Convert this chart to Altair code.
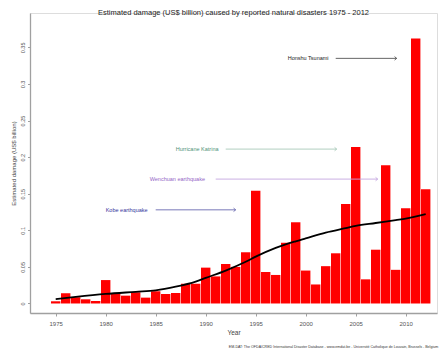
import altair as alt
import pandas as pd

years = list(range(1975, 2013))
damage = [0.003, 0.014, 0.0085, 0.0057, 0.0034, 0.032, 0.014, 0.0107, 0.0153, 0.008,
          0.0167, 0.013, 0.0143, 0.027, 0.027, 0.049, 0.037, 0.054, 0.050, 0.070,
          0.154, 0.043, 0.039, 0.083, 0.111, 0.045, 0.026, 0.051, 0.0686, 0.136,
          0.214, 0.033, 0.0735, 0.189, 0.046, 0.130, 0.362, 0.156]

trend_years = [1975, 1977, 1980, 1983, 1985, 1987, 1989, 1990, 1992, 1994, 1995,
               1997, 1999, 2000, 2002, 2004, 2005, 2007, 2009, 2010, 2012]
trend_vals = [0.006, 0.009, 0.013, 0.016, 0.018, 0.023, 0.030, 0.035, 0.045, 0.057, 0.064,
              0.076, 0.085, 0.089, 0.097, 0.103, 0.106, 0.110, 0.114, 0.116, 0.122]

ann_labels = ["Honshu Tsunami", "Hurricane Katrina", "Wenchuan earthquake", "Kobe earthquake"]
ann_text_x = [1998.2, 1987.0, 1984.4, 1980.0]
ann_y = [0.335, 0.211, 0.170, 0.128]
ann_arrow_start = [2003.0, 1992.0, 1991.0, 1985.0]
ann_arrow_end = [2009.1, 2003.1, 2007.2, 1993.0]
ann_text_color = ["#222222", "#4f9279", "#9466c6", "#35359c"]
ann_arrow_color = ["#555555", "#a9c9ba", "#c4a6e0", "#6a6ab0"]

caption = ["EM-DAT: The OFDA/CRED International Disaster Database - www.emdat.be - Université Catholique de Louvain, Brussels - Belgium"]
caption_x = [2013.25]
caption_y = [-0.059]

y_ticks = [0, 0.05, 0.1, 0.15, 0.2, 0.25, 0.3, 0.35]
x_ticks = [1975, 1980, 1985, 1990, 1995, 2000, 2005, 2010]

bars_df = pd.DataFrame({"year": years, "damage": damage})
bars_df["x0"] = bars_df["year"] - 0.47
bars_df["x1"] = bars_df["year"] + 0.47
trend_df = pd.DataFrame({"year": trend_years, "val": trend_vals})
ann_df = pd.DataFrame({"label": ann_labels, "tx": ann_text_x, "y": ann_y,
                       "a0": ann_arrow_start, "a1": ann_arrow_end,
                       "tc": ann_text_color, "ac": ann_arrow_color})
cap_df = pd.DataFrame({"text": caption, "x": caption_x, "y": caption_y})

xscale = alt.Scale(domain=[1972.43, 2013.13], nice=False, zero=False)
yscale = alt.Scale(domain=[-0.013, 0.397], nice=False, zero=False)

XT = "Year"
YT = "Estimated damage (US$ billion)"
xaxis = alt.Axis(values=x_ticks, format="d", labelFontSize=6, labelColor="#555555",
                 titleFontSize=6.5, titleColor="#444444", titleFontWeight="normal",
                 domainColor="#a0a0a0", domainWidth=1.3, tickColor="#a0a0a0",
                 tickSize=3, labelPadding=4, titlePadding=3, grid=False)
yaxis = alt.Axis(values=y_ticks, format="~g", labelFontSize=5.5, labelColor="#555555",
                 labelAngle=270, titleFontSize=6, titleColor="#444444",
                 titleFontWeight="normal", domainColor="#a0a0a0", domainWidth=1.3,
                 tickColor="#a0a0a0", tickSize=2.5, labelPadding=2, titlePadding=4,
                 grid=False)


def X(f):
    return alt.X(f, scale=xscale, title=XT, axis=xaxis)


def Y(f):
    return alt.Y(f, scale=yscale, title=YT, axis=yaxis)


bars = alt.Chart(bars_df).mark_rect(color="#ff0000").encode(
    x=X("x0:Q"), x2="x1:Q", y=Y("damage:Q"), y2=alt.datum(0),
)

trend = alt.Chart(trend_df).mark_line(color="black", strokeWidth=1.8, interpolate="monotone").encode(
    x=X("year:Q"), y=Y("val:Q"),
)

ann_text = alt.Chart(ann_df).mark_text(align="left", baseline="middle", fontSize=5.5).encode(
    x=X("tx:Q"), y=Y("y:Q"), text="label:N",
    color=alt.Color("tc:N", scale=None),
)

ann_rule = alt.Chart(ann_df).mark_rule(strokeWidth=0.9).encode(
    x=X("a0:Q"), x2="a1:Q", y=Y("y:Q"),
    color=alt.Color("ac:N", scale=None),
)

ann_head = alt.Chart(ann_df).mark_point(shape="M-1,-0.8L0,0L-1,0.8", filled=False,
                                        size=18, strokeWidth=0.9, opacity=1).encode(
    x=X("a1:Q"), y=Y("y:Q"),
    color=alt.Color("ac:N", scale=None),
)

cap = alt.Chart(cap_df).mark_text(align="right", baseline="middle", fontSize=3.6, color="#333333").encode(
    x=X("x:Q"), y=Y("y:Q"), text="text:N",
)

chart = alt.layer(bars, trend, ann_rule, ann_head, ann_text, cap).properties(
    width=407, height=300,
    padding={"left": 22, "top": 5, "right": 2, "bottom": 37},
    autosize=alt.AutoSizeParams(type="none"),
    title=alt.TitleParams("Estimated damage (US$ billion) caused by reported natural disasters 1975 - 2012",
                          fontSize=7.5, fontWeight="normal", color="#222222", anchor="middle",
                          offset=0, dy=3),
).configure_view(strokeWidth=0, stroke="transparent").configure(font="Liberation Sans")

chart.save("out.html", embed_options={"renderer": "svg", "actions": False})
